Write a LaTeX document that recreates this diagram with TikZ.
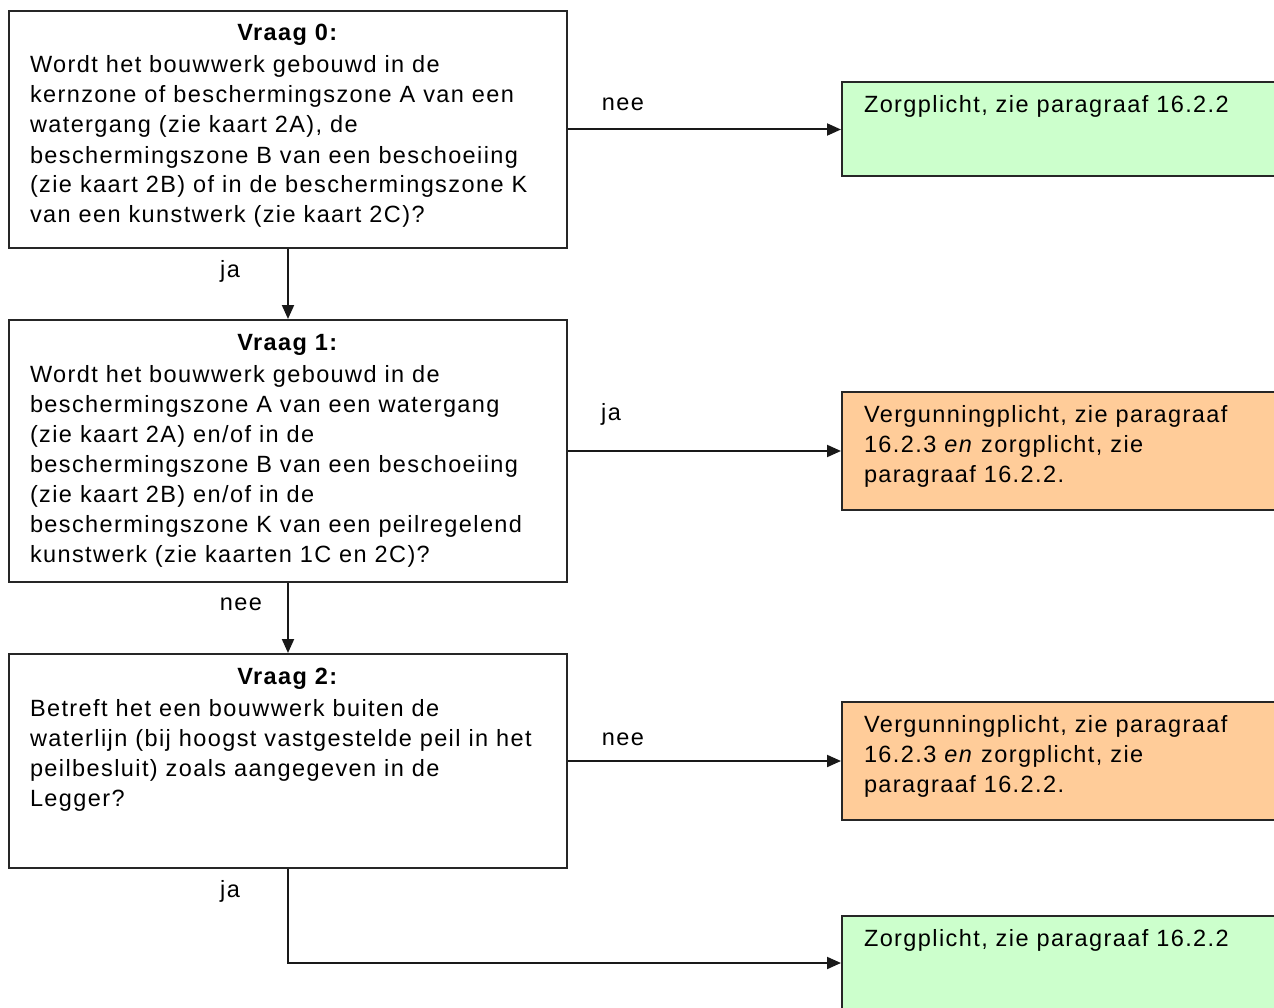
\documentclass[tikz,border=0pt]{standalone}
\usepackage{fontspec}
\setmainfont[LetterSpace=6]{Liberation Sans}
\usetikzlibrary{arrows.meta,positioning}

\definecolor{zorggroen}{HTML}{CCFFCC}
\definecolor{vergoranje}{HTML}{FFCC99}

% question box: bold title centred, body left, text at the top
\newcommand{\vraagtekst}[3]{\parbox[b][#1][t]{516pt}{%
  {\centering\rule{0pt}{30pt}\textbf{#2}\par}\vspace{2pt}\raggedright #3}}
\newcommand{\uitkomst}[2]{\parbox[b][#1][t]{404pt}{%
  \raggedright\rule{0pt}{30pt}#2}}

\begin{document}
\begin{tikzpicture}[
    x=1pt, y=-1pt,
    font=\fontsize{23.5pt}{30pt}\selectfont,
    vraag/.style={draw=black!85, line width=2pt, fill=white,
                  inner xsep=21pt, inner ysep=0pt},
    uit/.style={draw=black!85, line width=2pt,
                inner xsep=22pt, inner ysep=0pt},
    lbl/.style={inner sep=0pt},
    arr/.style={-{Triangle[length=14pt,width=12pt]}, line width=2pt,
                draw=black!90}
]
\useasboundingbox (0,0) rectangle (1274,1008);

\node[vraag, anchor=north west] (v0) at (8,10)
    {\vraagtekst{237pt}{Vraag 0:}{Wordt het bouwwerk gebouwd in de\\
     kernzone of beschermingszone A van een\\
     watergang (zie kaart 2A), de\\
     beschermingszone B van een beschoeiing\\
     (zie kaart 2B) of in de beschermingszone K\\
     van een kunstwerk (zie kaart 2C)?}};
\node[vraag, below=70pt of v0] (v1)
    {\vraagtekst{262pt}{Vraag 1:}{Wordt het bouwwerk gebouwd in de\\
     beschermingszone A van een watergang\\
     (zie kaart 2A) en/of in de\\
     beschermingszone B van een beschoeiing\\
     (zie kaart 2B) en/of in de\\
     beschermingszone K van een peilregelend\\
     kunstwerk (zie kaarten 1C en 2C)?}};
\node[vraag, below=70pt of v1] (v2)
    {\vraagtekst{214pt}{Vraag 2:}{Betreft het een bouwwerk buiten de\\
     waterlijn (bij hoogst vastgestelde peil in het\\
     peilbesluit) zoals aangegeven in de\\
     Legger?}};

\node[uit, fill=zorggroen, right=273pt of v0] (g1)
    {\uitkomst{94pt}{Zorgplicht, zie paragraaf 16.2.2}};
\node[uit, fill=vergoranje, right=273pt of v1] (o1)
    {\uitkomst{118pt}{Vergunningplicht, zie paragraaf\\
     16.2.3 \emph{en} zorgplicht, zie\\ paragraaf 16.2.2.}};
\node[uit, fill=vergoranje, right=273pt of v2] (o2)
    {\uitkomst{118pt}{Vergunningplicht, zie paragraaf\\
     16.2.3 \emph{en} zorgplicht, zie\\ paragraaf 16.2.2.}};
\node[uit, fill=zorggroen, below=94pt of o2] (g2)
    {\uitkomst{94pt}{Zorgplicht, zie paragraaf 16.2.2}};

\draw[arr] (v0) -- (g1);
\draw[arr] (v0) -- (v1);
\draw[arr] (v1) -- (o1);
\draw[arr] (v1) -- (v2);
\draw[arr] (v2) -- (o2);
\draw[arr] (v2) |- (g2);

\node[lbl] (nee0) at (623,104) {nee};
\node[lbl] (ja0)  at (230,271) {ja};
\node[lbl] (ja1)  at (611,414) {ja};
\node[lbl] (nee1) at (241,604) {nee};
\node[lbl] (nee2) at (623,739) {nee};
\node[lbl] (ja2)  at (230,891) {ja};

\end{tikzpicture}
\end{document}
